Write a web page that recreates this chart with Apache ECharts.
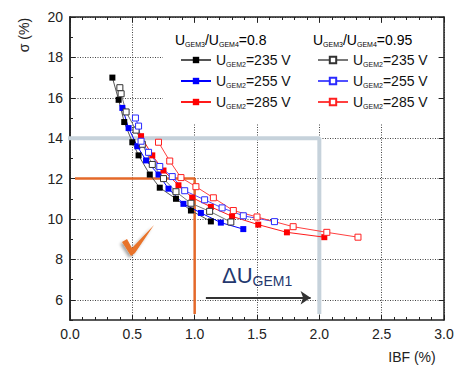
<!DOCTYPE html>
<html>
<head>
<meta charset="utf-8">
<script src="https://cdn.jsdelivr.net/npm/echarts@6/dist/echarts.min.js"></script>
<style>
  html, body { margin: 0; padding: 0; background: #fff; }
  #chart { width: 454px; height: 365px; }
</style>
</head>
<body>
<div id="chart"></div>
<script>
// 数据：[IBF (%), σ (%)]
const gem08_235 = [[0.34, 17.0], [0.39, 15.9], [0.435, 14.8], [0.5, 13.8], [0.55, 13.15], [0.64, 12.2], [0.72, 11.55], [0.85, 11.0], [0.97, 10.42], [1.13, 9.88]];
const gem08_255 = [[0.42, 15.5], [0.47, 14.5], [0.54, 13.6], [0.61, 12.9], [0.71, 12.2], [0.79, 11.5], [0.91, 10.75], [1.05, 10.3], [1.21, 9.82], [1.39, 9.5]];
const gem08_285 = [[0.57, 14.1], [0.66, 13.15], [0.75, 12.4], [0.87, 11.67], [0.98, 11.06], [1.13, 10.6], [1.3, 10.13], [1.51, 9.72], [1.74, 9.34], [2.04, 9.1]];
const gem095_235 = [[0.4, 16.5], [0.41, 16.2], [0.45, 15.3], [0.53, 14.4], [0.58, 13.7], [0.66, 12.7], [0.75, 12.0], [0.85, 11.35], [0.97, 10.78], [1.12, 10.38], [1.29, 9.85]];
const gem095_255 = [[0.525, 15.0], [0.55, 14.6], [0.57, 13.85], [0.63, 13.3], [0.72, 12.6], [0.82, 12.1], [0.92, 11.4], [1.08, 10.95], [1.22, 10.55], [1.39, 10.16], [1.64, 9.87]];
const gem095_285 = [[0.71, 13.8], [0.8, 12.87], [0.89, 12.05], [1.01, 11.6], [1.15, 11.05], [1.31, 10.42], [1.5, 10.1], [1.79, 9.62], [2.06, 9.34], [2.31, 9.1]];

// 辅助线（灰色 / 橙色）和箭头
const greyGuide = [[-0.08, 14], [2, 14], [2, 5.3]];
const orangeGuide = [[0.04, 12], [1, 12], [1, 5.3]];
const arrowLine = [[1.09, 6.1], [1.93, 6.1]];

// 刻度
const yMajor = [6, 8, 10, 12, 14, 16, 18, 20];
const yMinor = [5, 7, 9, 11, 13, 15, 17, 19];
const voltages = ['235', '255', '285'];

const FONT = '"Liberation Sans", Arial, sans-serif';
const rich = {
  u: { fontSize: 14, color: '#111', fontFamily: FONT, lineHeight: 16 },
  s: { fontSize: 7, color: '#111', fontFamily: FONT, lineHeight: 10, verticalAlign: 'bottom' },
};

const chart = echarts.init(document.getElementById('chart'), null, { renderer: 'svg' });

const mkSeries = (name, data, color, lineColor, open) => ({
  name,
  type: 'line',
  data,
  symbol: 'rect',
  symbolSize: 6,
  z: 5,
  lineStyle: { color: lineColor, width: 1 },
  itemStyle: open
    ? { color: '#fff', borderColor: color, borderWidth: 1 }
    : { color: color, borderWidth: 0 },
  animation: false,
});

const names08 = voltages.map((v) => 'U_GEM3/U_GEM4=0.8, U_GEM2=' + v + ' V');
const names095 = voltages.map((v) => 'U_GEM3/U_GEM4=0.95, U_GEM2=' + v + ' V');
const legendFmt = (name) => '{u|U}{s|GEM2}{u|=' + name.match(/(\d+) V$/)[1] + ' V}';

const axisColor = '#222';
const baseX = {
  type: 'value', min: 0, max: 3, interval: 0.5,
  axisLine: { show: true, onZero: false, lineStyle: { color: axisColor, width: 1.5 } },
  axisTick: { show: true, inside: true, length: 5, lineStyle: { color: axisColor } },
  minorTick: { show: true, splitNumber: 5, length: 3, lineStyle: { color: axisColor } },
};
const baseY = {
  type: 'value', min: 5, max: 20, interval: 1,
  axisLine: { show: true, onZero: false, lineStyle: { color: axisColor, width: 1.5 } },
};

const option = {
  animation: false,
  grid: { left: 70, right: 10, top: 17, bottom: 45, outerBoundsMode: 'none' },
  xAxis: [
    {
      ...baseX,
      position: 'bottom',
      axisLabel: { formatter: (v) => v.toFixed(1), fontSize: 14, color: '#222', fontFamily: FONT, margin: 7 },
      splitLine: { show: true, lineStyle: { type: [1, 1.5], color: '#444', width: 1 } },
    },
    { ...baseX, position: 'top', axisLabel: { show: false }, splitLine: { show: false } },
  ],
  yAxis: [
    {
      ...baseY,
      position: 'left',
      axisTick: { show: true, inside: true, length: 5, customValues: yMajor, lineStyle: { color: axisColor } },
      axisLabel: { customValues: yMajor, fontSize: 14, color: '#222', fontFamily: FONT, margin: 7 },
      splitLine: { show: true, lineStyle: { type: [1, 1.5], color: '#444', width: 1 } },
    },
    {
      ...baseY,
      position: 'left',
      axisTick: { show: true, inside: true, length: 3, customValues: yMinor, lineStyle: { color: axisColor } },
      axisLabel: { show: false },
      splitLine: { show: false },
    },
    {
      ...baseY,
      position: 'right',
      axisTick: { show: true, inside: true, length: 5, customValues: yMajor, lineStyle: { color: axisColor } },
      axisLabel: { show: false },
      splitLine: { show: false },
    },
  ],
  legend: [
    {
      data: names08, left: 175, top: 48, orient: 'vertical',
      itemWidth: 30, itemHeight: 8, itemGap: 6,
      formatter: legendFmt, textStyle: { rich }, selectedMode: false,
    },
    {
      data: names095, left: 312, top: 48, orient: 'vertical',
      itemWidth: 30, itemHeight: 8, itemGap: 6,
      formatter: legendFmt, textStyle: { rich }, selectedMode: false,
    },
  ],
  series: [
    {
      name: 'grey guide', type: 'line', data: greyGuide, symbol: 'none', z: 2, silent: true,
      lineStyle: { color: '#c6d2db', width: 4 },
      markLine: {
        silent: true, symbol: ['none', 'arrow'], symbolSize: 10, label: { show: false },
        lineStyle: { color: '#333', width: 2, type: 'solid' },
        data: [[{ coord: arrowLine[0] }, { coord: arrowLine[1] }]],
      },
    },
    {
      name: 'orange guide', type: 'line', data: orangeGuide, symbol: 'none', z: 2, silent: true,
      lineStyle: { color: '#e4692a', width: 2.5 },
    },
    mkSeries(names08[0], gem08_235, '#000', '#555', false),
    mkSeries(names08[1], gem08_255, '#0000ff', '#0000ff', false),
    mkSeries(names08[2], gem08_285, '#ff0000', '#ff1a1a', false),
    mkSeries(names095[0], gem095_235, '#333', '#777', true),
    mkSeries(names095[1], gem095_255, '#2a2aff', '#5050ff', true),
    mkSeries(names095[2], gem095_285, '#ff2020', '#ff4040', true),
  ],
  graphic: [
    // 图例的白色底框（盖住网格线）
    { type: 'rect', z: 1, shape: { x: 163, y: 23, width: 275, height: 100 }, style: { fill: '#fff' } },
    { type: 'text', z: 3, left: 175, top: 33, style: { text: '{u|U}{s|GEM3}{u|/U}{s|GEM4}{u|=0.8}', rich } },
    { type: 'text', z: 3, left: 313, top: 33, style: { text: '{u|U}{s|GEM3}{u|/U}{s|GEM4}{u|=0.95}', rich } },
    {
      type: 'text', x: 24, y: 35, rotation: Math.PI / 2,
      style: { text: 'σ (%)', font: '14px ' + FONT, fill: '#222', align: 'center', verticalAlign: 'middle' },
    },
    {
      type: 'text', x: 412, y: 357,
      style: { text: 'IBF (%)', font: '14px ' + FONT, fill: '#222', align: 'center', verticalAlign: 'middle' },
    },
    {
      type: 'text', z: 3, left: 222, top: 264,
      style: {
        text: '{d|ΔU}{s|GEM1}',
        rich: {
          d: { fontSize: 22, fontFamily: FONT, fill: '#24386e', color: '#24386e', lineHeight: 26 },
          s: { fontSize: 14, fontFamily: FONT, fill: '#24386e', color: '#24386e', lineHeight: 14, verticalAlign: 'bottom' },
        },
      },
    },
    {
      type: 'polygon', z: 10,
      shape: { points: [[122, 242], [127, 239], [132, 248], [154, 225], [135, 253], [131, 256]] },
      style: { fill: '#e8732a', shadowBlur: 3, shadowColor: 'rgba(0,0,0,0.35)', shadowOffsetX: -2, shadowOffsetY: 2 },
    },
  ],
};

chart.setOption(option);
</script>
</body>
</html>
